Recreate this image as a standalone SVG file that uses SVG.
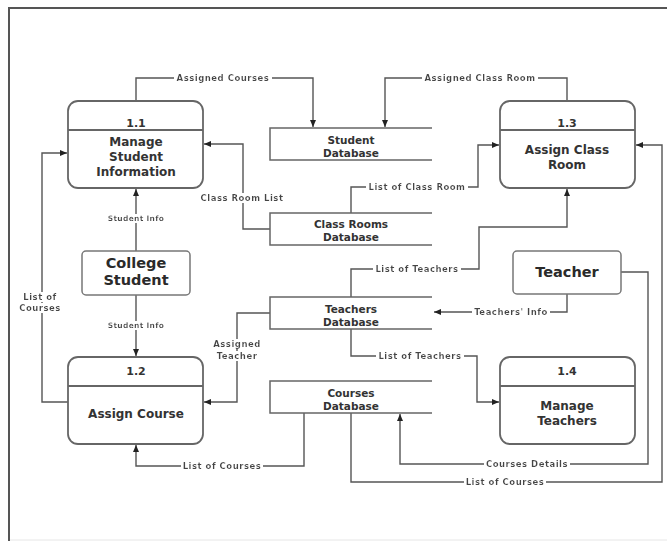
<svg xmlns="http://www.w3.org/2000/svg" width="667" height="541" viewBox="0 0 667 541">
  <style>
    .frame { stroke: #555; stroke-width: 2; fill: none; }
    .proc { fill: #fff; stroke: #666; stroke-width: 1.8; }
    .div { stroke: #666; stroke-width: 1.8; }
    .ent { fill: #fff; stroke: #777; stroke-width: 1.5; }
    .store { fill: none; stroke: #666; stroke-width: 1.5; }
    .flow { fill: none; stroke: #555; stroke-width: 1.4; }
    .t { font-family: "DejaVu Sans", "Liberation Sans", sans-serif; font-weight: bold; fill: #333; text-anchor: middle; }
    .pid { font-size: 11px; }
    .pname { font-size: 12px; }
    .ename { font-size: 14.5px; fill: #2a2a2a; }
    .sname { font-size: 10.5px; }
    .lbl { font-family: "DejaVu Sans", "Liberation Sans", sans-serif; font-weight: bold; font-size: 8.5px; letter-spacing: 0.5px; fill: #444; text-anchor: middle; filter: url(#knock); }
    .small { font-size: 7.5px; letter-spacing: 0.3px; }
  </style>
  <defs>
    <marker id="arr" markerUnits="userSpaceOnUse" markerWidth="8" markerHeight="8" refX="7" refY="4" orient="auto">
      <path d="M0,1 L7,4 L0,7 Z" fill="#222"/>
    </marker>
    <!-- white box behind flow labels so the line breaks around them -->
    <filter id="knock" x="-0.02" y="0" width="1.04" height="1">
      <feFlood flood-color="#fff"/>
      <feComposite in="SourceGraphic"/>
    </filter>
  </defs>

  <rect width="667" height="541" fill="#fff"/>
  <!-- page frame -->
  <path class="frame" d="M9,541 V8 H667"/>
  <line x1="10" y1="540" x2="667" y2="540" stroke="#e6e6e6" stroke-width="1"/>

  <!-- connectors -->
  <g id="connectors">
    <path class="flow" d="M136,101 V78 H313 V127" marker-end="url(#arr)"/>
    <path class="flow" d="M567,101 V78 H385 V127" marker-end="url(#arr)"/>
    <path class="flow" d="M270,229 H243 V144 H204" marker-end="url(#arr)"/>
    <path class="flow" d="M351,213 V187 H478 V145 H499" marker-end="url(#arr)"/>
    <path class="flow" d="M136,251 V189" marker-end="url(#arr)"/>
    <path class="flow" d="M136,295 V356" marker-end="url(#arr)"/>
    <path class="flow" d="M68,402 H42 V153 H67" marker-end="url(#arr)"/>
    <path class="flow" d="M270,313 H237 V402 H204" marker-end="url(#arr)"/>
    <path class="flow" d="M351,297 V269 H479 V227 H567 V189" marker-end="url(#arr)"/>
    <path class="flow" d="M567,294 V312 H434" marker-end="url(#arr)"/>
    <path class="flow" d="M351,329 V356 H477 V402 H499" marker-end="url(#arr)"/>
    <path class="flow" d="M621,272 H648 V464 H400 V414" marker-end="url(#arr)"/>
    <path class="flow" d="M351,413 V482 H662 V145 H636" marker-end="url(#arr)"/>
    <path class="flow" d="M304,413 V466 H136 V445" marker-end="url(#arr)"/>

    <text class="lbl" x="223" y="81">Assigned Courses</text>
    <text class="lbl" x="480" y="81">Assigned Class Room</text>
    <text class="lbl" x="242" y="201">Class Room List</text>
    <text class="lbl" x="417" y="190">List of Class Room</text>
    <text class="lbl small" x="136" y="221">Student Info</text>
    <text class="lbl small" x="136" y="328">Student Info</text>
    <text class="lbl" x="40" y="300">List of</text>
    <text class="lbl" x="40" y="311">Courses</text>
    <text class="lbl" x="237" y="347">Assigned</text>
    <text class="lbl" x="237" y="359">Teacher</text>
    <text class="lbl" x="417" y="272">List of Teachers</text>
    <text class="lbl" x="511" y="315">Teachers' Info</text>
    <text class="lbl" x="420" y="359">List of Teachers</text>
    <text class="lbl" x="527" y="467">Courses Details</text>
    <text class="lbl" x="505" y="485">List of Courses</text>
    <text class="lbl" x="222" y="469">List of Courses</text>
  </g>

  <!-- processes -->
  <g id="p1-1">
    <rect class="proc" x="68" y="101" width="135" height="87" rx="10"/>
    <line class="div" x1="68" y1="130" x2="203" y2="130"/>
    <text class="t pid" x="136" y="127">1.1</text>
    <text class="t pname" x="136" y="146">Manage</text>
    <text class="t pname" x="136" y="161">Student</text>
    <text class="t pname" x="136" y="176">Information</text>
  </g>
  <g id="p1-2">
    <rect class="proc" x="68" y="357" width="135" height="87" rx="10"/>
    <line class="div" x1="68" y1="386" x2="203" y2="386"/>
    <text class="t pid" x="136" y="375">1.2</text>
    <text class="t pname" x="136" y="418">Assign Course</text>
  </g>
  <g id="p1-3">
    <rect class="proc" x="500" y="101" width="135" height="87" rx="10"/>
    <line class="div" x1="500" y1="130" x2="635" y2="130"/>
    <text class="t pid" x="567" y="127">1.3</text>
    <text class="t pname" x="567" y="154">Assign Class</text>
    <text class="t pname" x="567" y="169">Room</text>
  </g>
  <g id="p1-4">
    <rect class="proc" x="500" y="357" width="135" height="87" rx="10"/>
    <line class="div" x1="500" y1="386" x2="635" y2="386"/>
    <text class="t pid" x="567" y="375">1.4</text>
    <text class="t pname" x="567" y="410">Manage</text>
    <text class="t pname" x="567" y="425">Teachers</text>
  </g>

  <!-- external entities -->
  <g id="college-student">
    <rect class="ent" x="82" y="251" width="108" height="44" rx="4"/>
    <text class="t ename" x="136" y="268">College</text>
    <text class="t ename" x="136" y="285">Student</text>
  </g>
  <g id="teacher">
    <rect class="ent" x="513" y="251" width="108" height="43" rx="4"/>
    <text class="t ename" x="567" y="277">Teacher</text>
  </g>

  <!-- data stores -->
  <g id="student-db">
    <path class="store" d="M432,128 H270 V160 H432"/>
    <text class="t sname" x="351" y="144">Student</text>
    <text class="t sname" x="351" y="157">Database</text>
  </g>
  <g id="classrooms-db">
    <path class="store" d="M432,213 H270 V245 H432"/>
    <text class="t sname" x="351" y="228">Class Rooms</text>
    <text class="t sname" x="351" y="241">Database</text>
  </g>
  <g id="teachers-db">
    <path class="store" d="M432,297 H270 V329 H432"/>
    <text class="t sname" x="351" y="313">Teachers</text>
    <text class="t sname" x="351" y="326">Database</text>
  </g>
  <g id="courses-db">
    <path class="store" d="M432,381 H270 V413 H432"/>
    <text class="t sname" x="351" y="397">Courses</text>
    <text class="t sname" x="351" y="410">Database</text>
  </g>
</svg>
